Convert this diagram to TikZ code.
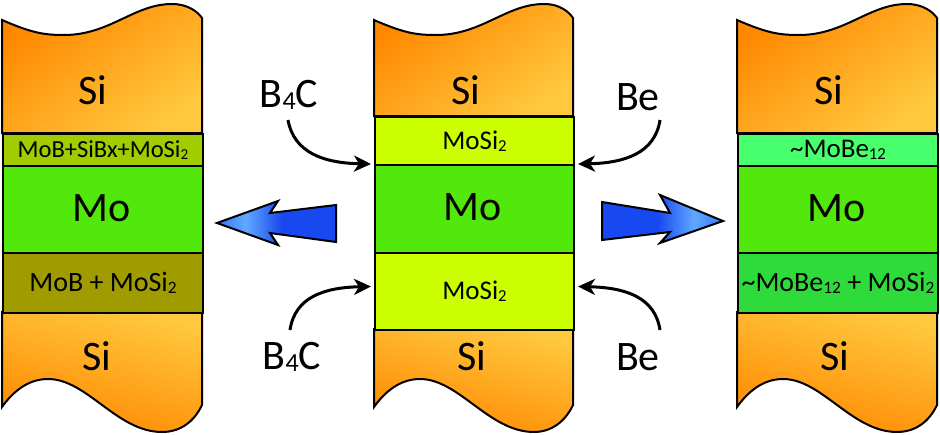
\documentclass[tikz,border=0pt]{standalone}
\usepackage{fontspec}
\setmainfont{Carlito}
\usepackage{graphicx}
\usetikzlibrary{arrows.meta,calc}
\definecolor{orD}{RGB}{255,136,0}
\definecolor{orL}{RGB}{255,200,62}
\definecolor{moG}{RGB}{82,232,12}
\definecolor{mixA}{RGB}{160,204,0}
\definecolor{mixB}{RGB}{160,156,0}
\definecolor{msiC}{RGB}{204,255,0}
\definecolor{mbeA}{RGB}{72,255,110}
\definecolor{mbeB}{RGB}{46,219,58}
\definecolor{bD}{RGB}{24,72,240}
\definecolor{bLt}{RGB}{96,168,255}
\definecolor{bM}{RGB}{52,120,250}
\pgfdeclarehorizontalshading{bluearrL}{100bp}{color(0bp)=(bM); color(25bp)=(bM); color(37bp)=(bLt); color(52bp)=(bD); color(100bp)=(bD)}
\pgfdeclarehorizontalshading{bluearrR}{100bp}{color(0bp)=(bD); color(48bp)=(bD); color(63bp)=(bLt); color(75bp)=(bM); color(100bp)=(bM)}
\newcommand{\sbs}[1]{\raisebox{-0.06em}{\scalebox{0.62}{#1}}}
\newcommand{\sitop}[3]{%
  \path[draw=black, line width=2pt, top color=orD, bottom color=orL, shading angle=35]
    (#1,#3) -- (#1,20) .. controls ({#1+30},33) and ({#1+42},35) .. ({#1+62},35)
    .. controls ({#1+108},35) and ({#1+132},4) .. ({#1+170},4)
    .. controls ({#1+186},4) and ({#2-4},12) .. (#2,18) -- (#2,#3) -- cycle;}
\newcommand{\sibot}[3]{%
  \path[draw=black, line width=2pt, top color=orL, bottom color=orD, shading angle=-15]
    (#1,#3) -- (#2,#3) -- (#2,405) .. controls ({#2-8},422) and ({#2-22},432) .. ({#1+160},432)
    .. controls ({#1+115},432) and ({#1+85},379) .. ({#1+46},379)
    .. controls ({#1+25},379) and ({#1+10},393) .. (#1,407) -- cycle;}
\tikzset{
  layer/.style={draw=black, line width=2pt, inner sep=0pt, anchor=north west},
  big/.style={font=\fontsize{42}{44}\selectfont, inner sep=0pt},
  mid/.style={font=\fontsize{27}{30}\selectfont},
  lbl/.style={font=\fontsize{42}{44}\selectfont, inner sep=0pt},
  carrow/.style={line width=3pt, -{Stealth[length=17pt,width=16pt,inset=5pt]}},
  bigarrow/.style={draw=black, line width=2pt, line join=miter}
}
\begin{document}
\begin{tikzpicture}[x=1pt,y=-1pt]
\useasboundingbox (0,0) rectangle (940,434);
% ---------- left column
\sitop{2}{202}{133}
\sibot{2}{202}{312}
\node[layer, fill=mixA, minimum width=200pt, minimum height=32pt, font=\fontsize{24.5}{26}\selectfont] (lmix) at (2,133) {MoB+SiBx+MoSi\sbs{2}};
\node[layer, fill=moG, minimum width=200pt, minimum height=87pt] (lMo) at (2,165) {};
\node[layer, fill=mixB, minimum width=200pt, minimum height=60pt, font=\fontsize{28}{30}\selectfont] (lmix2) at (2,252) {MoB + MoSi\sbs{2}\hspace{4pt}};
\node[big] (lSiT) at (93,90) {Si};
\node[big] (lMoT) at (102,208) {Mo};
\node[big] (lSiB) at (97,356) {Si};
% ---------- middle column
\sitop{374}{573}{116}
\sibot{374}{573}{329}
\node[layer, fill=msiC, minimum width=199pt, minimum height=48pt, mid] (msiT) at (374,116) {MoSi\sbs{2}};
\node[layer, fill=moG, minimum width=199pt, minimum height=88pt] (mMo) at (374,164) {};
\node[layer, fill=msiC, minimum width=199pt, minimum height=77pt, mid] (msiB) at (374,252) {MoSi\sbs{2}};
\node[big] (mSiT) at (466,90) {Si};
\node[big] (mMoT) at (473,207) {Mo};
\node[big] (mSiB) at (472,356) {Si};
% ---------- right column
\sitop{737}{937}{133}
\sibot{737}{937}{312}
\node[layer, fill=mbeA, minimum width=200pt, minimum height=32pt, font=\fontsize{27}{28}\selectfont] (rbe) at (737,133) {\textasciitilde MoBe\sbs{12}};
\node[layer, fill=moG, minimum width=200pt, minimum height=87pt] (rMo) at (737,165) {};
\node[layer, fill=mbeB, minimum width=200pt, minimum height=60pt, font=\fontsize{28}{30}\selectfont] (rbe2) at (737,252) {\textasciitilde MoBe\sbs{12} + MoSi\sbs{2}};
\node[big] (rSiT) at (829,90) {Si};
\node[big] (rMoT) at (837,208) {Mo};
\node[big] (rSiB) at (835,356) {Si};
% ---------- labels and curved arrows
\node[lbl] (bt) at (289,95) {B\sbs{4}C};
\node[lbl] (bb) at (292,357) {B\sbs{4}C};
\node[lbl] (et) at (638,97) {Be};
\node[lbl] (eb) at (638,357) {Be};
\draw[carrow] ($(bt)+(-1,25)$) .. controls ($(bt)+(5,58)$) and ($(mMo.north west)+(-50,-1)$) .. ($(mMo.north west)+(-3,0)$);
\draw[carrow] ($(bb)+(-2,-27)$) .. controls ($(bb)+(3,-60)$) and ($(msiB.west)+(-50,-4)$) .. ($(msiB.west)+(-3,-5)$);
\draw[carrow] ($(et)+(22,23)$) .. controls ($(et)+(17,56)$) and ($(mMo.north east)+(50,-1)$) .. ($(mMo.north east)+(3,0)$);
\draw[carrow] ($(eb)+(22,-27)$) .. controls ($(eb)+(17,-60)$) and ($(msiB.east)+(50,-4)$) .. ($(msiB.east)+(3,-5)$);
% ---------- big blue arrows
\path[bigarrow, shading=bluearrL] (217,223) -- (278,201) -- (270,213) -- (336,205) -- (336,242) -- (270,233) -- (278,245) -- cycle;
\path[bigarrow, shading=bluearrR] (602,202) -- (670,213) -- (660,195) -- (723,221) -- (660,243) -- (670,232) -- (602,240) -- cycle;
\end{tikzpicture}
\end{document}
